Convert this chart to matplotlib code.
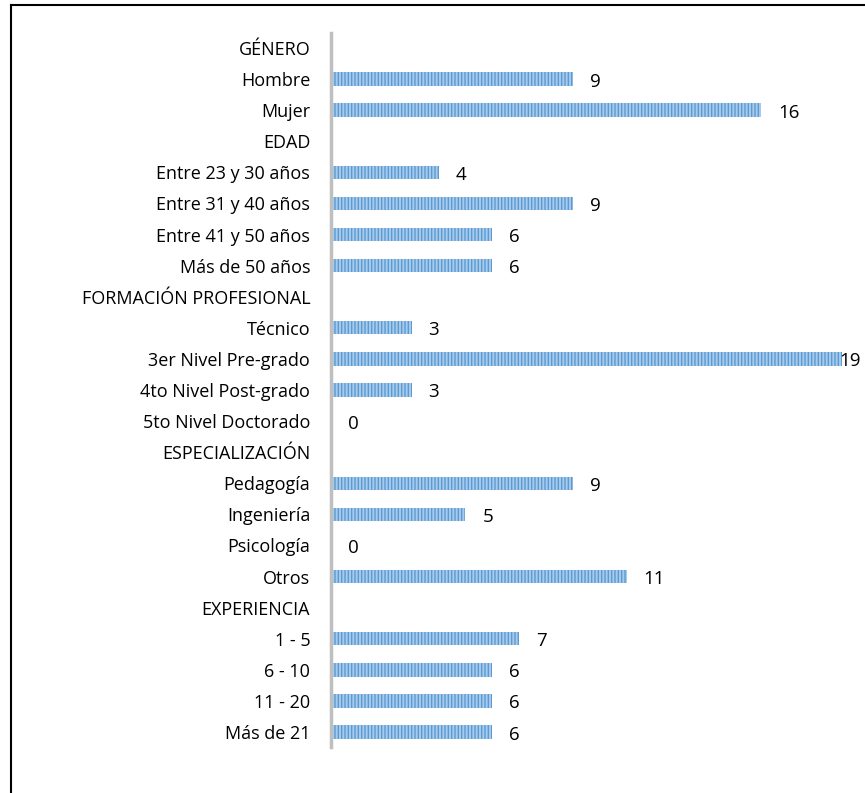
import matplotlib.pyplot as plt
from matplotlib.lines import Line2D
import numpy as np

# categorias (las cabeceras no llevan valor)
labels = ['GÉNERO', 'Hombre', 'Mujer',
          'EDAD', 'Entre 23 y 30 años', 'Entre 31 y 40 años', 'Entre 41 y 50 años', 'Más de 50 años',
          'FORMACIÓN PROFESIONAL', 'Técnico', '3er Nivel Pre-grado', '4to Nivel Post-grado', '5to Nivel Doctorado',
          'ESPECIALIZACIÓN', 'Pedagogía', 'Ingeniería', 'Psicología', 'Otros',
          'EXPERIENCIA', '1 - 5', '6 - 10', '11 - 20', 'Más de 21']
values = [None, 9, 16,
          None, 4, 9, 6, 6,
          None, 3, 19, 3, 0,
          None, 9, 5, 0, 11,
          None, 7, 6, 6, 6]

plt.rcParams['font.family'] = ['Open Sans', 'DejaVu Sans']
plt.rcParams['hatch.linewidth'] = 1.0

fig = plt.figure(figsize=(8.65, 7.93), dpi=100)
ax = fig.add_axes([331/865, 1-747/793, (842-331)/865, (747-33)/793])

y = np.arange(len(labels))
vals = [np.nan if v is None else v for v in values]
ax.barh(y, vals, height=0.43, color='#a9cbeb', hatch='|||||', edgecolor='#5b9bd5', linewidth=0)

for yi, v in zip(y, values):
    if v is not None:
        ax.text(min(v + 0.63, 18.9), yi + 0.08, str(v), va='center', ha='left', fontsize=13.5)

ax.set_yticks(y)
ax.set_yticklabels(labels, fontsize=13)
ax.set_xlim(0, 19)
ax.set_ylim(22.48, -0.48)
ax.tick_params(axis='y', length=0, pad=15)
ax.set_xticks([])
for s in ['top', 'right', 'bottom']:
    ax.spines[s].set_visible(False)
ax.spines['left'].set_color('#bfbfbf')
ax.spines['left'].set_linewidth(2.5)

# marco exterior
fig.add_artist(Line2D([11/865, 11/865], [0, 1-5/793], color='black', lw=1.5))
fig.add_artist(Line2D([11/865, 1], [1-5/793, 1-5/793], color='black', lw=1.5))

plt.savefig('out.png', dpi=100)
